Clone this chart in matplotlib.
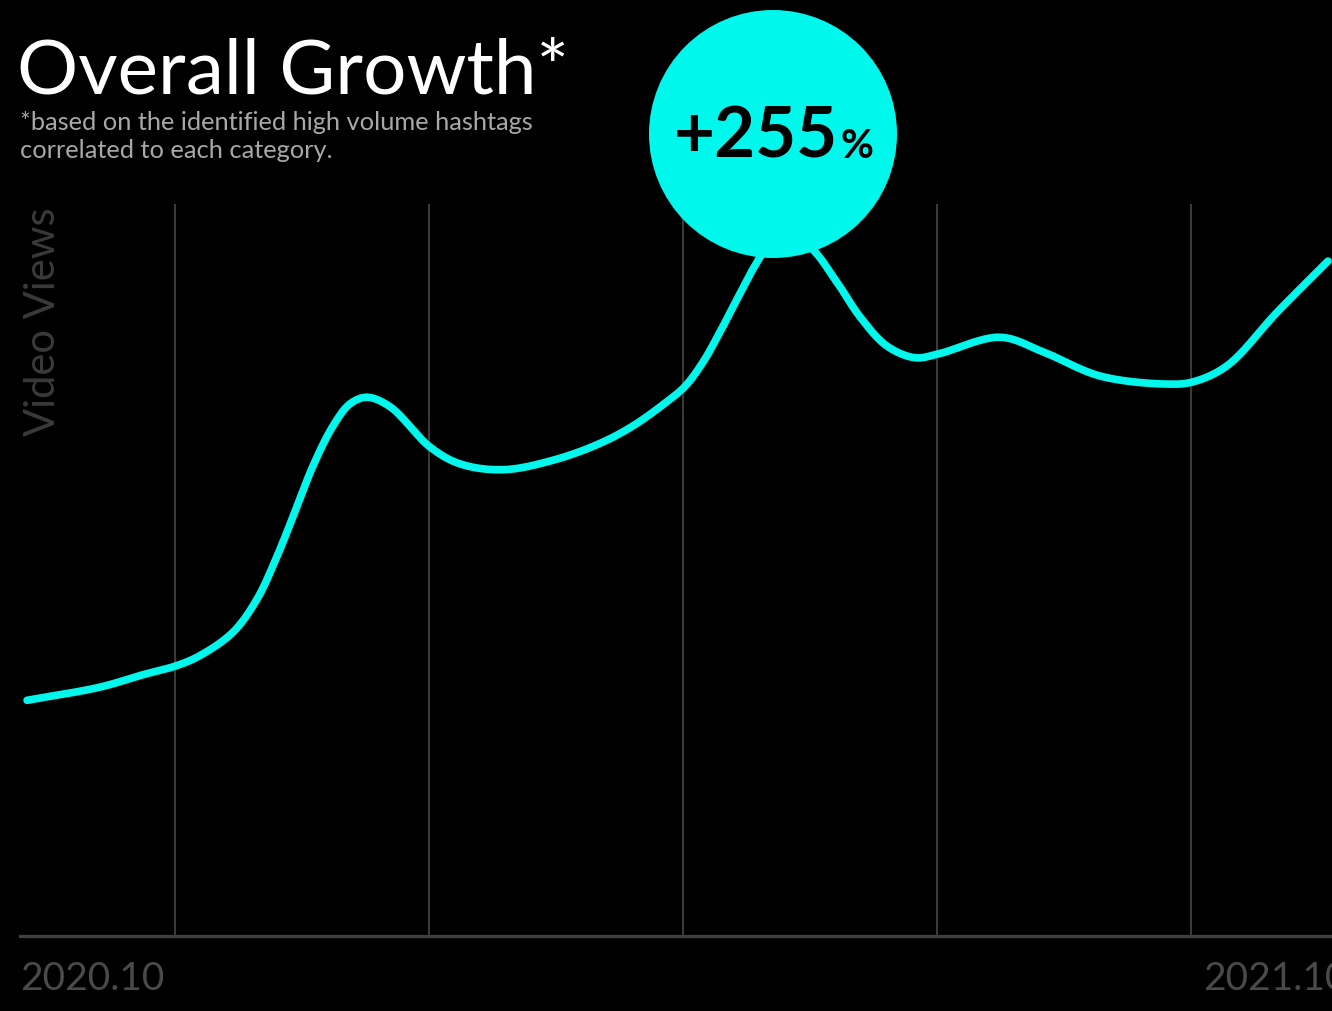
import numpy as np
import matplotlib
matplotlib.use("Agg")
import matplotlib.pyplot as plt
from matplotlib.patches import Circle

# ---- data ----
weeks = [0.28, 3.17, 4.88, 6.18, 7.13, 8.44, 9.39, 10.19, 10.98, 11.61, 12.41,
         13.08, 13.75, 14.67, 16.25, 17.44, 19.14, 21.13, 22.99, 24.30, 25.64,
         26.36, 27.07, 27.74, 28.42, 29.05, 29.53, 30.32, 31.31, 32.38, 33.29,
         34.36, 35.47, 36.38, 38.84, 40.55, 42.81, 45.46, 46.49, 47.84, 49.82,
         51.84]
views = [32.2, 34.0, 35.7, 36.9, 38.3, 41.5, 46.0, 51.9, 58.7, 64.2, 69.7,
         72.7, 73.6, 72.3, 66.8, 64.5, 63.7, 65.0, 67.3, 69.7, 73.0,
         75.1, 78.4, 82.5, 87.0, 91.1, 93.6, 95.6, 94.1, 89.3, 84.6,
         80.6, 79.0, 79.5, 81.8, 79.8, 76.5, 75.4, 75.7, 77.9, 85.2,
         92.2]
grid_weeks = [6.14, 16.21, 26.28, 36.35, 46.42]
tick_labels = ["2020.10", "2021.10"]
tick_weeks = [0, 52]
title = "Overall Growth*"
subtitle_lines = ["*based on the identified high volume hashtags",
                  "correlated to each category."]
ylabel = "Video Views"
growth = "+255"

CYAN = "#00F7EB"
FONT = ["Lato", "DejaVu Sans"]

W, H = 1332, 1012
fig = plt.figure(figsize=(W / 100, H / 100), dpi=100, facecolor="black")
ax = fig.add_axes([20 / W, 75 / H, 1312 / W, 732 / H], facecolor="black")
ax.set_xlim(0, 52)
ax.set_ylim(0, 100)


def centripetal_cr(xs, ys, n=24, alpha=0.5):
    # smooth rendering of the read points (in display space, so the curve looks even)
    pts = ax.transData.transform(np.column_stack([xs, ys]))
    P = np.vstack([pts[0] * 2 - pts[1], pts, pts[-1] * 2 - pts[-2]])
    out = []
    for i in range(1, len(P) - 2):
        p0, p1, p2, p3 = P[i - 1], P[i], P[i + 1], P[i + 2]
        t0 = 0.0
        t1 = t0 + np.linalg.norm(p1 - p0) ** alpha
        t2 = t1 + np.linalg.norm(p2 - p1) ** alpha
        t3 = t2 + np.linalg.norm(p3 - p2) ** alpha
        t = np.linspace(t1, t2, n, endpoint=False)[:, None]
        a1 = (t1 - t) / (t1 - t0) * p0 + (t - t0) / (t1 - t0) * p1
        a2 = (t2 - t) / (t2 - t1) * p1 + (t - t1) / (t2 - t1) * p2
        a3 = (t3 - t) / (t3 - t2) * p2 + (t - t2) / (t3 - t2) * p3
        b1 = (t2 - t) / (t2 - t0) * a1 + (t - t0) / (t2 - t0) * a2
        b2 = (t3 - t) / (t3 - t1) * a2 + (t - t1) / (t3 - t1) * a3
        c = (t2 - t) / (t2 - t1) * b1 + (t - t1) / (t2 - t1) * b2
        out.append(c)
    out.append(P[-2][None, :])
    out = np.vstack(out)
    d = ax.transData.inverted().transform(out)
    return d[:, 0], d[:, 1]


for g in grid_weeks:
    ax.axvline(g, color="#3a3a3a", lw=1.5, zorder=1)

for s in ["top", "right", "left"]:
    ax.spines[s].set_visible(False)
ax.spines["bottom"].set_color("#404040")
ax.spines["bottom"].set_linewidth(2.3)
ax.set_xticks([])
ax.set_yticks([])

sx, sy = centripetal_cr(weeks, views)
ax.plot(sx, sy, color=CYAN, lw=5.5, solid_capstyle="round", zorder=3, clip_on=False)

# x labels
for xv, lab, ha, dx in zip(tick_weeks, tick_labels, ["left", "right"], [0, 11]):
    ax.annotate(lab, xy=(xv, 0), xycoords=("data", "axes fraction"),
                xytext=(dx, -17), textcoords="offset points", ha=ha, va="top",
                fontsize=28, color="#4a4a4a", family=FONT, annotation_clip=False)

# y label
fig.text(43 / W, 1 - 322 / H, ylabel, rotation=90, ha="center", va="center",
         fontsize=30, color="#3a3a3a", family=FONT)

# title and subtitle
fig.text(17 / W, 1 - 94 / H, title, ha="left", va="baseline", fontsize=55,
         color="white", family=FONT)
for i, line in enumerate(subtitle_lines):
    fig.text(20 / W, 1 - (130 + 28.5 * i) / H, line, ha="left", va="baseline",
             fontsize=18.3, color="#a8a8a8", family=FONT)

# circle badge
circ = Circle((773 / 100, (H - 135) / 100), 1.24, transform=fig.dpi_scale_trans,
              facecolor=CYAN, edgecolor="none", zorder=5)
fig.add_artist(circ)
fig.text(838 / W, 1 - 158 / H, growth, ha="right", va="baseline", fontsize=51,
         fontweight="bold", color="black", family=FONT, zorder=6)
fig.text(840 / W, 1 - 158 / H, "%", ha="left", va="baseline", fontsize=29,
         fontweight="bold", color="black", family=FONT, zorder=6)

fig.savefig("out.png", dpi=100, facecolor="black")
